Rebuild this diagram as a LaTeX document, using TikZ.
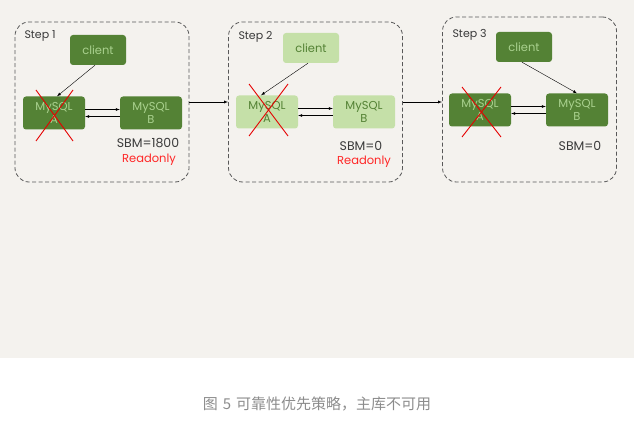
\documentclass[tikz,border=0pt]{standalone}
\usepackage{fontspec}
\setmainfont{Poppins}
\newfontfamily\cjkfont{Noto Sans CJK SC}
\usepackage{xcolor}
\usetikzlibrary{arrows}
\definecolor{bggray}{HTML}{F4F2EE}
\definecolor{darkgrn}{HTML}{548235}
\definecolor{lightgrn}{HTML}{A9D18E}
\definecolor{palegrn}{HTML}{C5E0A8}
\definecolor{capgray}{HTML}{8C8C8C}
\definecolor{txtgray}{HTML}{3A3A3A}
\tikzstyle{stepbox}=[draw=txtgray!85, dash pattern=on 4pt off 2.5pt, line width=0.8pt, rounded corners=14pt, minimum width=174pt, minimum height=160pt]
\tikzstyle{darkdb}=[fill=darkgrn, text=lightgrn, rounded corners=3pt, minimum width=62pt, minimum height=33pt, align=center, font=\fontsize{11.5}{13}\selectfont]
\tikzstyle{lightdb}=[darkdb, fill=palegrn, text=darkgrn]
\tikzstyle{steplabel}=[anchor=west, text=txtgray, font=\fontsize{11}{13}\selectfont]
\tikzstyle{sbm}=[text=txtgray, font=\fontsize{12.5}{14}\selectfont]
\tikzstyle{ro}=[text=red!85!white, font=\fontsize{11.5}{13}\selectfont]
\tikzstyle{cross}=[draw=red!90!black, line width=0.9pt]
\def\MyA{MySQL\\A}
\def\MyB{MySQL\\B}

\begin{document}
\begin{tikzpicture}[x=1pt, y=-1pt, >=latex]
		\useasboundingbox (0,0) rectangle (634,425);
		\fill[bggray] (0,0) rectangle (634,358);
		% step 1
		\node[stepbox] (s1) at (102,102) {};
		\node[steplabel] (l1) at (21,36) {Step 1};
		\node[darkdb, minimum width=56pt, minimum height=30pt] (c1) at (98,50) {client};
		\node[darkdb] (a1) at (54,113) {\MyA};
		\node[darkdb] (b1) at (151,113) {\MyB};
		\node[sbm] (m1) at (148,143) {SBM=1800};
		\node[ro] (r1) at (149,160) {Readonly};
		\draw[->] ([xshift=-3pt]c1.south) -- ([xshift=3pt]a1.north);
		\draw[->] ([yshift=3.5pt]a1.east) -- ([yshift=3.5pt]b1.west);
		\draw[->] ([yshift=-3.5pt]b1.west) -- ([yshift=-3.5pt]a1.east);
		\draw[cross] ([shift={(-18,-23)}]a1.center) -- ([shift={(19,28)}]a1.center);
		\draw[cross] ([shift={(19,-23)}]a1.center) -- ([shift={(-18,28)}]a1.center);
		% step 2
		\node[stepbox] (s2) at (315.5,102) {};
		\node[steplabel] (l2) at (235,37) {Step 2};
		\node[lightdb, minimum width=56pt, minimum height=30pt] (c2) at (311,48) {client};
		\node[lightdb] (a2) at (267,112) {\MyA};
		\node[lightdb] (b2) at (364,112) {\MyB};
		\node[sbm] (m2) at (361,146) {SBM=0};
		\node[ro] (r2) at (364,162) {Readonly};
		\draw[->] ([xshift=-3pt]c2.south) -- ([xshift=-6pt]a2.north);
		\draw[->] ([yshift=3.5pt]a2.east) -- ([yshift=3.5pt]b2.west);
		\draw[->] ([yshift=-3.5pt]b2.west) -- ([yshift=-3.5pt]a2.east);
		\draw[cross] ([shift={(-18,-28)}]a2.center) -- ([shift={(21,24)}]a2.center);
		\draw[cross] ([shift={(21,-28)}]a2.center) -- ([shift={(-18,24)}]a2.center);
		% step 3
		\node[stepbox, minimum height=165pt] (s3) at (529.5,99.5) {};
		\node[steplabel] (l3) at (449,35) {Step 3};
		\node[darkdb, minimum width=56pt, minimum height=30pt] (c3) at (524,47) {client};
		\node[darkdb] (a3) at (480,110) {\MyA};
		\node[darkdb] (b3) at (577,110) {\MyB};
		\node[sbm] (m3) at (580,146) {SBM=0};
		\draw[->] ([xshift=-2pt]c3.south) -- (b3.north);
		\draw[->] ([yshift=3.5pt]a3.east) -- ([yshift=3.5pt]b3.west);
		\draw[->] ([yshift=-3.5pt]b3.west) -- ([yshift=-3.5pt]a3.east);
		\draw[cross] ([shift={(-18,-23)}]a3.center) -- ([shift={(21,27)}]a3.center);
		\draw[cross] ([shift={(21,-23)}]a3.center) -- ([shift={(-18,27)}]a3.center);
		% between steps
		\draw[->] (s1.east) -- (s2.west);
		\draw[->] (s2.east) -- (s2.east -| s3.west);
		\node[text=capgray, font=\cjkfont\fontsize{15}{18}\selectfont] (cap) at (317,404) {图\hspace{5pt}5\hspace{5pt}可靠性优先策略，主库不可用};
	\end{tikzpicture}
\end{document}
